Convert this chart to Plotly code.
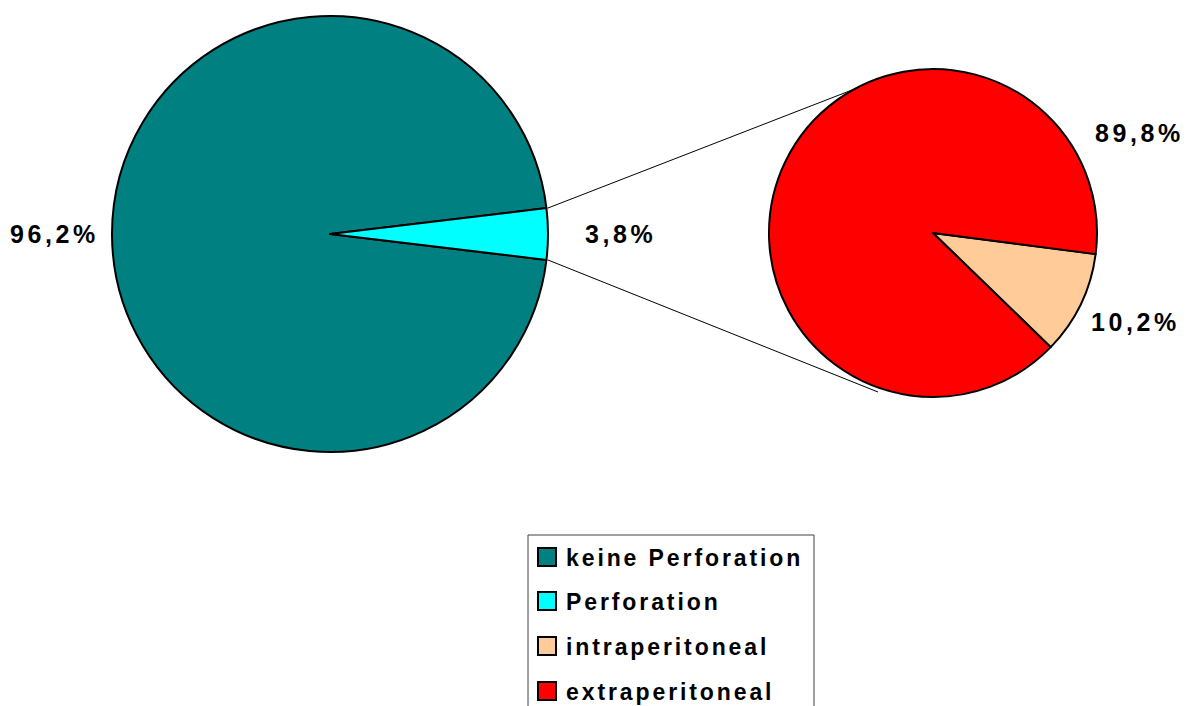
import plotly.graph_objects as go

W, H = 1189, 706

# ---- data ----
main_labels = ["keine Perforation", "Perforation"]
main_values = [96.2, 3.8]
sub_labels = ["intraperitoneal", "extraperitoneal"]
sub_values = [10.2, 89.8]
legend_labels = ["keine Perforation", "Perforation", "intraperitoneal", "extraperitoneal"]
colors = {"keine Perforation": "#008080", "Perforation": "#00FFFF",
          "intraperitoneal": "#FFCC99", "extraperitoneal": "#FF0000"}

FONT = "Arial, 'Liberation Sans', sans-serif"


def px(x, y):
    return x / W, 1 - y / H


def fmt(v):
    return f"{v:.1f}%".replace(".", ",")


def spaced(t, sp):
    return f'<span style="letter-spacing:{sp}px">{t}</span>'


fig = go.Figure()

# main pie: center (330,234), r=218
fig.add_trace(go.Pie(
    labels=main_labels, values=main_values, sort=False, direction="clockwise",
    rotation=90 + main_values[1] / 2 * 3.6,
    marker=dict(colors=[colors[l] for l in main_labels], line=dict(color="black", width=2)),
    textinfo="none", hoverinfo="label+percent", showlegend=False,
    domain=dict(x=[112 / W, 548 / W], y=[1 - 452 / H, 1 - 16 / H]),
))

# secondary pie: center (933,233), r=164
fig.add_trace(go.Pie(
    labels=sub_labels, values=sub_values, sort=False, direction="clockwise",
    rotation=97.4,
    marker=dict(colors=[colors[l] for l in sub_labels], line=dict(color="black", width=2)),
    textinfo="none", hoverinfo="label+percent", showlegend=False,
    domain=dict(x=[769 / W, 1097 / W], y=[1 - 397 / H, 1 - 69 / H]),
))

shapes = []
# connector lines
for (x0, y0), (x1, y1) in [((548, 208), (852, 90)), ((548, 260), (878, 392))]:
    a0 = px(x0, y0)
    a1 = px(x1, y1)
    shapes.append(dict(type="line", xref="paper", yref="paper", x0=a0[0], y0=a0[1],
                       x1=a1[0], y1=a1[1], line=dict(color="black", width=1), layer="below"))

annotations = []
# data labels
label_pos = [(55, 234), (621, 234), (1139, 133), (1135, 322)]
label_vals = [main_values[0], main_values[1], sub_values[1], sub_values[0]]
for (x, y), v in zip(label_pos, label_vals):
    ax, ay = px(x, y)
    annotations.append(dict(x=ax, y=ay, xref="paper", yref="paper", text=spaced(fmt(v), 3.6),
                            showarrow=False, xanchor="center", yanchor="middle",
                            font=dict(family=FONT, size=25, color="black", weight="bold")))

# legend box
l0 = px(528, 535)
l1 = px(814, 730)
shapes.append(dict(type="rect", xref="paper", yref="paper", x0=l0[0], y0=l1[1], x1=l1[0], y1=l0[1],
                   line=dict(color="#404040", width=1), fillcolor="white", layer="above"))
row_y = [557, 601, 646, 691]
for lab, yc in zip(legend_labels, row_y):
    s0 = px(538, yc - 9)
    s1 = px(556, yc + 9)
    shapes.append(dict(type="rect", xref="paper", yref="paper", x0=s0[0], y0=s1[1], x1=s1[0], y1=s0[1],
                       line=dict(color="black", width=2), fillcolor=colors[lab], layer="above"))
    tx, ty = px(564, yc + 1)
    annotations.append(dict(x=tx, y=ty, xref="paper", yref="paper", text=spaced(lab, 2.9),
                            showarrow=False, xanchor="left", yanchor="middle",
                            font=dict(family=FONT, size=23, color="black", weight="bold")))

fig.update_layout(
    width=W, height=H, autosize=False,
    margin=dict(l=0, r=0, t=0, b=0),
    paper_bgcolor="white", plot_bgcolor="white",
    showlegend=False, shapes=shapes, annotations=annotations,
)

fig.write_html("out.html")
